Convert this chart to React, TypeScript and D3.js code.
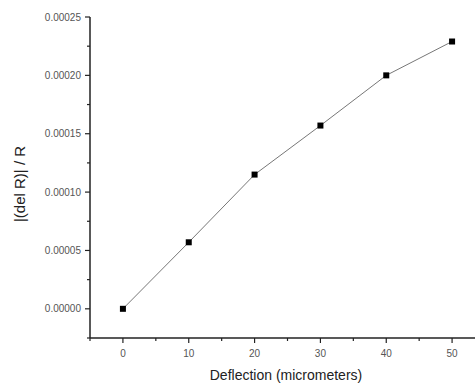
import React, { useRef, useEffect } from 'react';
import * as d3 from 'd3';

const deflection = [0, 10, 20, 30, 40, 50];
const ratio = [0, 0.000057, 0.000115, 0.000157, 0.0002, 0.000229];
const xMajor = [0, 10, 20, 30, 40, 50];
const xMinor = [-5, 5, 15, 25, 35, 45, 55];
const yMajor = [0, 0.00005, 0.0001, 0.00015, 0.0002, 0.00025];
const yMinor = [-0.000025, 0.000025, 0.000075, 0.000125, 0.000175, 0.000225];

const App = () => {
  const svgRef = useRef<SVGSVGElement>(null);

  useEffect(() => {
    const width = 475;
    const left = 90;
    const top = 17;
    const bottom = 338;
    const right = 485;

    const svg = d3.select(svgRef.current);
    svg.selectAll('*').remove();

    const x = d3.scaleLinear().domain([-5, 55]).range([left, right]);
    const y = d3.scaleLinear().domain([-0.000025, 0.00025]).range([bottom, top]);

    const font = 'Arial, "Liberation Sans", sans-serif';

    // axes lines
    svg.append('line').attr('x1', left).attr('x2', left).attr('y1', top).attr('y2', bottom)
      .attr('stroke', '#222').attr('stroke-width', 1.5);
    svg.append('line').attr('x1', left).attr('x2', width).attr('y1', bottom).attr('y2', bottom)
      .attr('stroke', '#222').attr('stroke-width', 1.5);

    // y ticks
    svg.selectAll('.ymaj').data(yMajor).enter().append('line')
      .attr('x1', left - 5).attr('x2', left).attr('y1', d => y(d)).attr('y2', d => y(d))
      .attr('stroke', '#222').attr('stroke-width', 1.2);
    svg.selectAll('.ymin').data(yMinor).enter().append('line')
      .attr('x1', left - 3).attr('x2', left).attr('y1', d => y(d)).attr('y2', d => y(d))
      .attr('stroke', '#222').attr('stroke-width', 1.2);
    svg.selectAll('.ylab').data(yMajor).enter().append('text')
      .attr('x', left - 9).attr('y', d => y(d)).attr('dy', '0.35em')
      .attr('text-anchor', 'end').attr('font-family', font).attr('font-size', 10)
      .attr('fill', '#555').text(d => d3.format('.5f')(d));

    // x ticks
    svg.selectAll('.xmaj').data(xMajor).enter().append('line')
      .attr('x1', d => x(d)).attr('x2', d => x(d)).attr('y1', bottom).attr('y2', bottom + 5)
      .attr('stroke', '#222').attr('stroke-width', 1.2);
    svg.selectAll('.xmin').data(xMinor).enter().append('line')
      .attr('x1', d => x(d)).attr('x2', d => x(d)).attr('y1', bottom).attr('y2', bottom + 3)
      .attr('stroke', '#222').attr('stroke-width', 1.2);
    svg.selectAll('.xlab').data(xMajor).enter().append('text')
      .attr('x', d => x(d)).attr('y', bottom + 15).attr('dy', '0.35em')
      .attr('text-anchor', 'middle').attr('font-family', font).attr('font-size', 10)
      .attr('fill', '#555').text(d => String(d));

    // axis titles
    svg.append('text').attr('x', 286).attr('y', 375).attr('dy', '0.35em')
      .attr('text-anchor', 'middle').attr('font-family', font).attr('font-size', 14)
      .attr('fill', '#222').text('Deflection (micrometers)');
    svg.append('text').attr('transform', 'translate(20,184) rotate(-90)').attr('dy', '0.35em')
      .attr('text-anchor', 'middle').attr('font-family', font).attr('font-size', 15)
      .attr('fill', '#222').text('|(del R)| / R');

    const pts = deflection.map((d, i) => [d, ratio[i]] as [number, number]);
    const line = d3.line<[number, number]>().x(d => x(d[0])).y(d => y(d[1]));
    svg.append('path').attr('d', line(pts)).attr('fill', 'none')
      .attr('stroke', '#777').attr('stroke-width', 1);
    svg.selectAll('.pt').data(pts).enter().append('rect')
      .attr('x', d => x(d[0]) - 3).attr('y', d => y(d[1]) - 3)
      .attr('width', 6).attr('height', 6).attr('fill', '#000');
  }, []);

  return (
    <svg ref={svgRef} width={475} height={383}
      style={{ position: 'absolute', left: 0, top: 0, background: '#fff' }} />
  );
};

export default App;
